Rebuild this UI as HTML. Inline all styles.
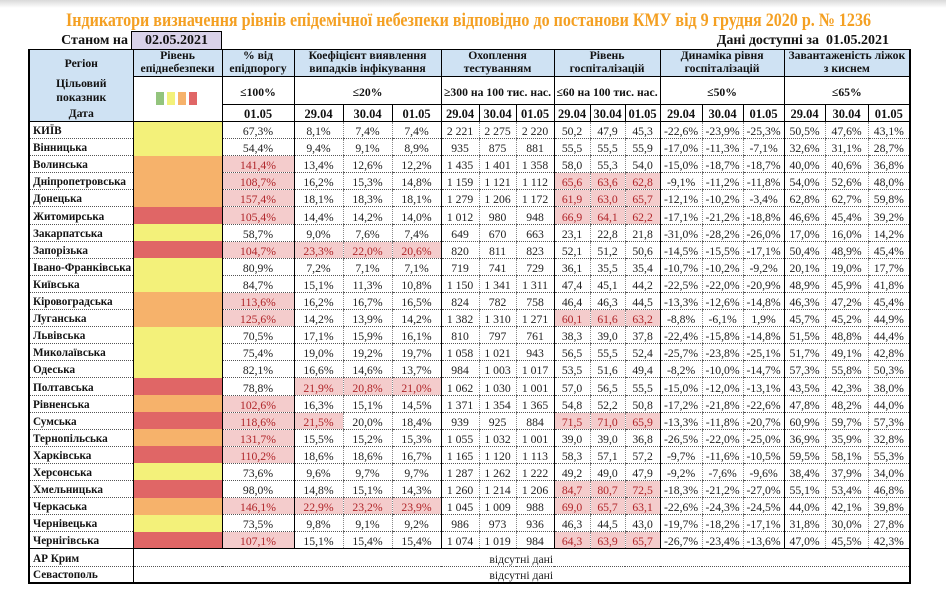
<!DOCTYPE html>
<html><head><meta charset="utf-8">
<style>
html,body{margin:0;padding:0}
body{width:946px;height:592px;background:#fff;position:relative;overflow:hidden;font-family:"Liberation Serif",serif;color:#1e1e1e}
.shadow{position:absolute;left:0;top:0;width:946px;height:8px;background:linear-gradient(#d9d9d9,#ffffff)}
.abs{position:absolute;white-space:nowrap;font-weight:bold;font-size:14px;line-height:16px;color:#111}
.datebox{position:absolute;left:131px;top:31px;width:89px;height:18px;background:#d9d2e9;border:1px solid #000;border-bottom:none;text-align:center;font-weight:bold;font-size:14px;line-height:18px;color:#111}
.sq{position:absolute;top:92px;width:8px;height:13px}
table{position:absolute;left:28px;top:49px;border-collapse:collapse;table-layout:fixed;width:881px;border:2px solid #000;border-top:1px solid #000}
td,th{padding:0;white-space:nowrap;overflow:hidden;text-align:center;font-size:11.7px}
.hr1 th{background:#cfe2f3;border:1px solid #000;font-weight:bold;line-height:12.7px;vertical-align:middle;color:#111}
.rh{background:#cfe2f3;border:1px solid #000;vertical-align:top;font-weight:bold;color:#111}
.rh div{display:flex;align-items:center;justify-content:center;text-align:center;line-height:14px}
.hr2 td{border:1px solid #000;font-weight:bold;vertical-align:middle;padding-top:4px;color:#111}
.hr3 td{border:1px solid #000;font-weight:bold;font-size:12.5px;line-height:14px;vertical-align:bottom;color:#111}
.d{height:17.1px}
.d td{border-left:1px dotted #888;border-bottom:1px dotted #555;vertical-align:bottom;line-height:13px}
.d td:nth-child(2),.d td:nth-child(3),.d td:nth-child(4),.d td:nth-child(7),.d td:nth-child(10),.d td:nth-child(13),.d td:nth-child(16){border-left:1px solid #000}
.d td:nth-child(2){border-bottom:none}
.d th{text-align:left;padding-left:3px;font-weight:bold;font-size:11.2px;border-bottom:1px dotted #555;border-right:1px solid #000;vertical-align:bottom;line-height:13px;color:#111}
.Y{background:#f3f17a}
.O{background:#f6b26b}
.R{background:#e06666}
.p{background:#f4cccc;color:#b0262a}
.e{height:17.3px}
.e th{text-align:left;padding-left:3px;font-weight:bold;font-size:11.2px;border-top:1px solid #000;border-bottom:1px dotted #555;border-right:1px solid #000;vertical-align:bottom;line-height:13px;color:#111}
.e td{border-top:1px solid #000;border-left:1px solid #000;border-bottom:1px dotted #555;vertical-align:bottom;line-height:13px}
.e2{height:17px}
.e2 th{text-align:left;padding-left:3px;font-weight:bold;font-size:11.2px;border-right:1px solid #000;vertical-align:bottom;line-height:13px;color:#111}
.e2 td{border-left:1px solid #000;vertical-align:bottom;line-height:13px}
</style></head>
<body>
<div class="shadow"></div>
<svg style="position:absolute;left:0;top:0" width="946" height="32"><text x="66" y="26" font-family="Liberation Serif, serif" font-weight="bold" font-size="19" fill="#f4a023" textLength="805" lengthAdjust="spacingAndGlyphs">Індикатори визначення рівнів епідемічної небезпеки відповідно до постанови КМУ від 9 грудня 2020 р. № 1236</text></svg>
<div class="abs" style="right:818px;top:33px">Станом на</div>
<div class="datebox">02.05.2021</div>
<div class="abs" style="right:57px;top:33px">Дані доступні за&nbsp; 01.05.2021</div>

<table>
<colgroup>
<col style="width:104px"><col style="width:89px"><col style="width:72px">
<col style="width:49px"><col style="width:49px"><col style="width:49px">
<col style="width:38px"><col style="width:37px"><col style="width:38px">
<col style="width:36px"><col style="width:35px"><col style="width:35px">
<col style="width:42px"><col style="width:41px"><col style="width:41px">
<col style="width:41px"><col style="width:43px"><col style="width:42px">
</colgroup>
<tr class="hr1" style="height:27px">
<th rowspan="3" class="rh" style="background:#cfe2f3"><div style="height:27px">Регіон</div><div style="height:27px">Цільовий<br>показник</div><div style="height:17px;align-items:flex-end;padding-bottom:0">Дата</div></th>
<th>Рівень<br>епіднебезпеки</th>
<th>% від<br>епідпорогу</th>
<th colspan="3">Коефіцієнт виявлення<br>випадків інфікування</th>
<th colspan="3">Охоплення<br>тестуванням</th>
<th colspan="3">Рівень<br>госпіталізацій</th>
<th colspan="3">Динаміка рівня<br>госпіталізацій</th>
<th colspan="3">Завантаженість ліжок<br>з киснем</th>
</tr>
<tr class="hr2" style="height:27px">
<td rowspan="2" style="padding:0"></td>
<td>≤100%</td>
<td colspan="3">≤20%</td>
<td colspan="3">≥300 на 100 тис. нас.</td>
<td colspan="3">≤60 на 100 тис. нас.</td>
<td colspan="3">≤50%</td>
<td colspan="3">≤65%</td>
</tr>
<tr class="hr3" style="height:17px">
<td>01.05</td>
<td>29.04</td><td>30.04</td><td>01.05</td>
<td>29.04</td><td>30.04</td><td>01.05</td>
<td>29.04</td><td>30.04</td><td>01.05</td>
<td>29.04</td><td>30.04</td><td>01.05</td>
<td>29.04</td><td>30.04</td><td>01.05</td>
</tr>
<tr class="d"><th>КИЇВ</th><td class="Y"></td><td>67,3%</td><td>8,1%</td><td>7,4%</td><td>7,4%</td><td>2 221</td><td>2 275</td><td>2 220</td><td>50,2</td><td>47,9</td><td>45,3</td><td>-22,6%</td><td>-23,9%</td><td>-25,3%</td><td>50,5%</td><td>47,6%</td><td>43,1%</td></tr>
<tr class="d"><th>Вінницька</th><td class="Y"></td><td>54,4%</td><td>9,4%</td><td>9,1%</td><td>8,9%</td><td>935</td><td>875</td><td>881</td><td>55,5</td><td>55,5</td><td>55,9</td><td>-17,0%</td><td>-11,3%</td><td>-7,1%</td><td>32,6%</td><td>31,1%</td><td>28,7%</td></tr>
<tr class="d"><th>Волинська</th><td class="O"></td><td class="p">141,4%</td><td>13,4%</td><td>12,6%</td><td>12,2%</td><td>1 435</td><td>1 401</td><td>1 358</td><td>58,0</td><td>55,3</td><td>54,0</td><td>-15,0%</td><td>-18,7%</td><td>-18,7%</td><td>40,0%</td><td>40,6%</td><td>36,8%</td></tr>
<tr class="d"><th>Дніпропетровська</th><td class="O"></td><td class="p">108,7%</td><td>16,2%</td><td>15,3%</td><td>14,8%</td><td>1 159</td><td>1 121</td><td>1 112</td><td class="p">65,6</td><td class="p">63,6</td><td class="p">62,8</td><td>-9,1%</td><td>-11,2%</td><td>-11,8%</td><td>54,0%</td><td>52,6%</td><td>48,0%</td></tr>
<tr class="d"><th>Донецька</th><td class="O"></td><td class="p">157,4%</td><td>18,1%</td><td>18,3%</td><td>18,1%</td><td>1 279</td><td>1 206</td><td>1 172</td><td class="p">61,9</td><td class="p">63,0</td><td class="p">65,7</td><td>-12,1%</td><td>-10,2%</td><td>-3,4%</td><td>62,8%</td><td>62,7%</td><td>59,8%</td></tr>
<tr class="d"><th>Житомирська</th><td class="R"></td><td class="p">105,4%</td><td>14,4%</td><td>14,2%</td><td>14,0%</td><td>1 012</td><td>980</td><td>948</td><td class="p">66,9</td><td class="p">64,1</td><td class="p">62,2</td><td>-17,1%</td><td>-21,2%</td><td>-18,8%</td><td>46,6%</td><td>45,4%</td><td>39,2%</td></tr>
<tr class="d"><th>Закарпатська</th><td class="Y"></td><td>58,7%</td><td>9,0%</td><td>7,6%</td><td>7,4%</td><td>649</td><td>670</td><td>663</td><td>23,1</td><td>22,8</td><td>21,8</td><td>-31,0%</td><td>-28,2%</td><td>-26,0%</td><td>17,0%</td><td>16,0%</td><td>14,2%</td></tr>
<tr class="d"><th>Запорізька</th><td class="R"></td><td class="p">104,7%</td><td class="p">23,3%</td><td class="p">22,0%</td><td class="p">20,6%</td><td>820</td><td>811</td><td>823</td><td>52,1</td><td>51,2</td><td>50,6</td><td>-14,5%</td><td>-15,5%</td><td>-17,1%</td><td>50,4%</td><td>48,9%</td><td>45,4%</td></tr>
<tr class="d"><th>Івано-Франківська</th><td class="Y"></td><td>80,9%</td><td>7,2%</td><td>7,1%</td><td>7,1%</td><td>719</td><td>741</td><td>729</td><td>36,1</td><td>35,5</td><td>35,4</td><td>-10,7%</td><td>-10,2%</td><td>-9,2%</td><td>20,1%</td><td>19,0%</td><td>17,7%</td></tr>
<tr class="d"><th>Київська</th><td class="Y"></td><td>84,7%</td><td>15,1%</td><td>11,3%</td><td>10,8%</td><td>1 150</td><td>1 341</td><td>1 311</td><td>47,4</td><td>45,1</td><td>44,2</td><td>-22,5%</td><td>-22,0%</td><td>-20,9%</td><td>48,9%</td><td>45,9%</td><td>41,8%</td></tr>
<tr class="d"><th>Кіровоградська</th><td class="O"></td><td class="p">113,6%</td><td>16,2%</td><td>16,7%</td><td>16,5%</td><td>824</td><td>782</td><td>758</td><td>46,4</td><td>46,3</td><td>44,5</td><td>-13,3%</td><td>-12,6%</td><td>-14,8%</td><td>46,3%</td><td>47,2%</td><td>45,4%</td></tr>
<tr class="d"><th>Луганська</th><td class="O"></td><td class="p">125,6%</td><td>14,2%</td><td>13,9%</td><td>14,2%</td><td>1 382</td><td>1 310</td><td>1 271</td><td class="p">60,1</td><td class="p">61,6</td><td class="p">63,2</td><td>-8,8%</td><td>-6,1%</td><td>1,9%</td><td>45,7%</td><td>45,2%</td><td>44,9%</td></tr>
<tr class="d"><th>Львівська</th><td class="Y"></td><td>70,5%</td><td>17,1%</td><td>15,9%</td><td>16,1%</td><td>810</td><td>797</td><td>761</td><td>38,3</td><td>39,0</td><td>37,8</td><td>-22,4%</td><td>-15,8%</td><td>-14,8%</td><td>51,5%</td><td>48,8%</td><td>44,4%</td></tr>
<tr class="d"><th>Миколаївська</th><td class="Y"></td><td>75,4%</td><td>19,0%</td><td>19,2%</td><td>19,7%</td><td>1 058</td><td>1 021</td><td>943</td><td>56,5</td><td>55,5</td><td>52,4</td><td>-25,7%</td><td>-23,8%</td><td>-25,1%</td><td>51,7%</td><td>49,1%</td><td>42,8%</td></tr>
<tr class="d"><th>Одеська</th><td class="Y"></td><td>82,1%</td><td>16,6%</td><td>14,6%</td><td>13,7%</td><td>984</td><td>1 003</td><td>1 017</td><td>53,5</td><td>51,6</td><td>49,4</td><td>-8,2%</td><td>-10,0%</td><td>-14,7%</td><td>57,3%</td><td>55,8%</td><td>50,3%</td></tr>
<tr class="d"><th>Полтавська</th><td class="R"></td><td>78,8%</td><td class="p">21,9%</td><td class="p">20,8%</td><td class="p">21,0%</td><td>1 062</td><td>1 030</td><td>1 001</td><td>57,0</td><td>56,5</td><td>55,5</td><td>-15,0%</td><td>-12,0%</td><td>-13,1%</td><td>43,5%</td><td>42,3%</td><td>38,0%</td></tr>
<tr class="d"><th>Рівненська</th><td class="O"></td><td class="p">102,6%</td><td>16,3%</td><td>15,1%</td><td>14,5%</td><td>1 371</td><td>1 354</td><td>1 365</td><td>54,8</td><td>52,2</td><td>50,8</td><td>-17,2%</td><td>-21,8%</td><td>-22,6%</td><td>47,8%</td><td>48,2%</td><td>44,0%</td></tr>
<tr class="d"><th>Сумська</th><td class="R"></td><td class="p">118,6%</td><td class="p">21,5%</td><td>20,0%</td><td>18,4%</td><td>939</td><td>925</td><td>884</td><td class="p">71,5</td><td class="p">71,0</td><td class="p">65,9</td><td>-13,3%</td><td>-11,8%</td><td>-20,7%</td><td>60,9%</td><td>59,7%</td><td>57,3%</td></tr>
<tr class="d"><th>Тернопільська</th><td class="O"></td><td class="p">131,7%</td><td>15,5%</td><td>15,2%</td><td>15,3%</td><td>1 055</td><td>1 032</td><td>1 001</td><td>39,0</td><td>39,0</td><td>36,8</td><td>-26,5%</td><td>-22,0%</td><td>-25,0%</td><td>36,9%</td><td>35,9%</td><td>32,8%</td></tr>
<tr class="d"><th>Харківська</th><td class="R"></td><td class="p">110,2%</td><td>18,6%</td><td>18,6%</td><td>16,7%</td><td>1 165</td><td>1 120</td><td>1 113</td><td>58,3</td><td>57,1</td><td>57,2</td><td>-9,7%</td><td>-11,6%</td><td>-10,5%</td><td>59,5%</td><td>58,1%</td><td>55,3%</td></tr>
<tr class="d"><th>Херсонська</th><td class="Y"></td><td>73,6%</td><td>9,6%</td><td>9,7%</td><td>9,7%</td><td>1 287</td><td>1 262</td><td>1 222</td><td>49,2</td><td>49,0</td><td>47,9</td><td>-9,2%</td><td>-7,6%</td><td>-9,6%</td><td>38,4%</td><td>37,9%</td><td>34,0%</td></tr>
<tr class="d"><th>Хмельницька</th><td class="R"></td><td>98,0%</td><td>14,8%</td><td>15,1%</td><td>14,3%</td><td>1 260</td><td>1 214</td><td>1 206</td><td class="p">84,7</td><td class="p">80,7</td><td class="p">72,5</td><td>-18,3%</td><td>-21,2%</td><td>-27,0%</td><td>55,1%</td><td>53,4%</td><td>46,8%</td></tr>
<tr class="d"><th>Черкаська</th><td class="O"></td><td class="p">146,1%</td><td class="p">22,9%</td><td class="p">23,2%</td><td class="p">23,9%</td><td>1 045</td><td>1 009</td><td>988</td><td class="p">69,0</td><td class="p">65,7</td><td class="p">63,1</td><td>-22,6%</td><td>-24,3%</td><td>-24,5%</td><td>44,0%</td><td>42,1%</td><td>39,8%</td></tr>
<tr class="d"><th>Чернівецька</th><td class="Y"></td><td>73,5%</td><td>9,8%</td><td>9,1%</td><td>9,2%</td><td>986</td><td>973</td><td>936</td><td>46,3</td><td>44,5</td><td>43,0</td><td>-19,7%</td><td>-18,2%</td><td>-17,1%</td><td>31,8%</td><td>30,0%</td><td>27,8%</td></tr>
<tr class="d"><th>Чернігівська</th><td class="R"></td><td class="p">107,1%</td><td>15,1%</td><td>15,4%</td><td>15,4%</td><td>1 074</td><td>1 019</td><td>984</td><td class="p">64,3</td><td class="p">63,9</td><td class="p">65,7</td><td>-26,7%</td><td>-23,4%</td><td>-13,6%</td><td>47,0%</td><td>45,5%</td><td>42,3%</td></tr>
<tr class="e"><th>АР Крим</th><td colspan="17">відсутні дані</td></tr>
<tr class="e2"><th>Севастополь</th><td colspan="17">відсутні дані</td></tr>
</table>

<div class="sq" style="left:156px;background:#93c47d"></div>
<div class="sq" style="left:167px;background:#f3f17a"></div>
<div class="sq" style="left:178px;background:#f6b26b"></div>
<div class="sq" style="left:189px;background:#e06666"></div>
</body></html>
